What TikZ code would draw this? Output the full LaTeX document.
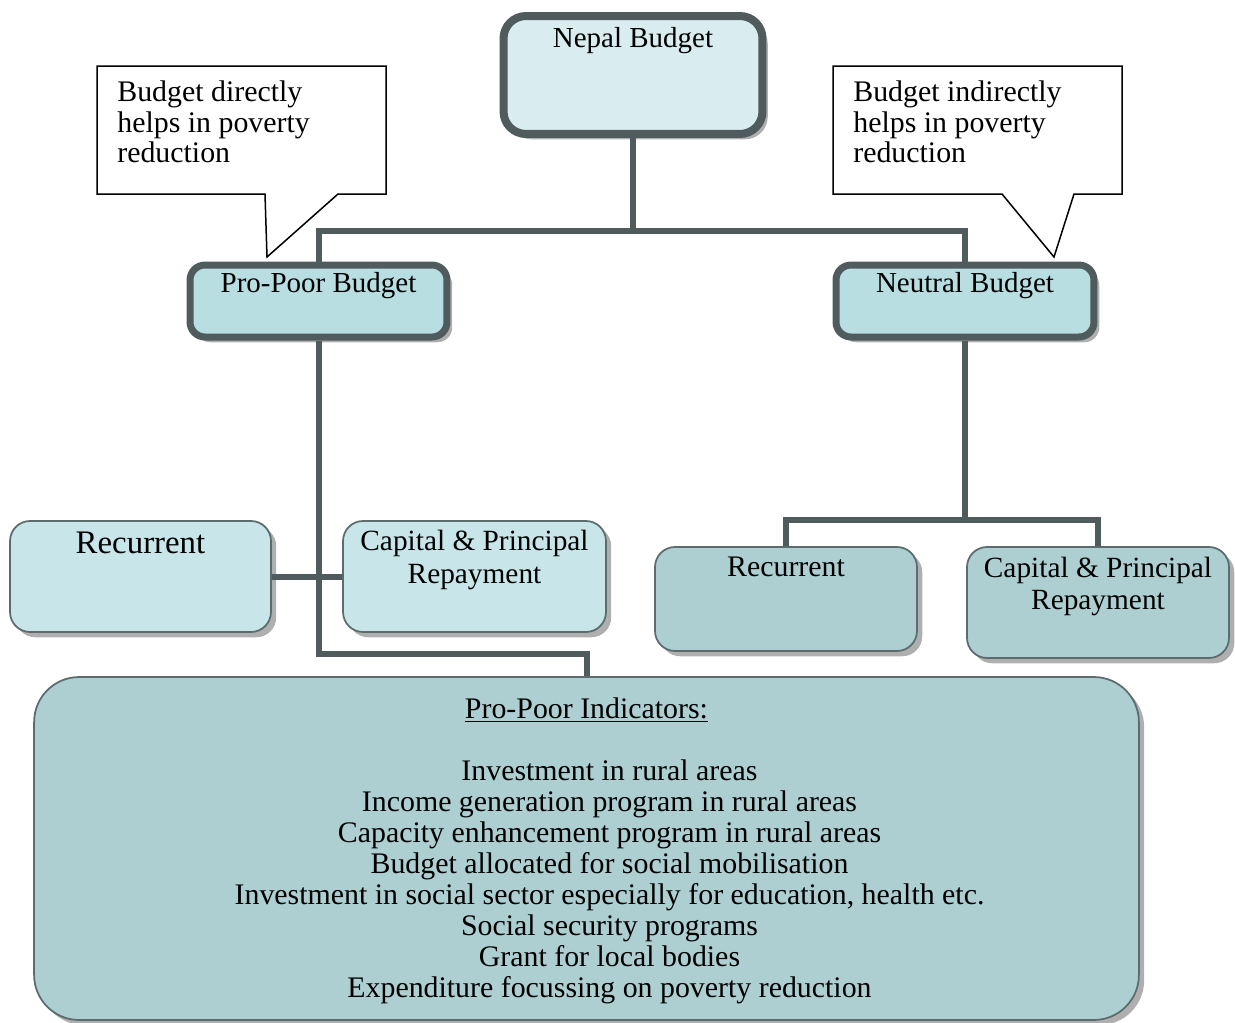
\documentclass[tikz,border=0pt]{standalone}
\usepackage{fontspec}
\setmainfont{Liberation Serif}
\usetikzlibrary{shadows}

\definecolor{slate}{RGB}{79,91,92}
\definecolor{edgegray}{RGB}{92,108,110}
\definecolor{topfill}{RGB}{217,237,240}
\definecolor{midfill}{RGB}{184,222,226}
\definecolor{lightfill}{RGB}{200,230,233}
\definecolor{darkfill}{RGB}{173,207,210}

\newcommand{\headfont}{\fontsize{16.5}{18.5}\selectfont}
\newcommand{\listfont}{\fontsize{17}{17.6}\selectfont}

\begin{document}
\begin{tikzpicture}[x=0.02cm,y=-0.02cm]
\tikzstyle{boxshadow} = [drop shadow={shadow xshift=3pt, shadow yshift=-3pt, fill=black!35, opacity=0.9}]
\tikzstyle{headbox} = [draw=slate, line width=1.4mm, boxshadow]
\tikzstyle{subbox} = [draw=edgegray, line width=0.35mm, rounded corners=0.4cm, boxshadow]
\tikzstyle{link} = [draw=slate, line width=1.2mm]
\tikzstyle{callout} = [draw=black, line width=0.3mm, fill=white]
\tikzstyle{calltext} = [anchor=north west, align=left, inner sep=0pt, font=\listfont]

\useasboundingbox (0,0) rectangle (1235,1022);

% top level
\node[headbox, fill=topfill, rounded corners=0.45cm, line width=1.6mm, minimum width=5.18cm, minimum height=2.36cm,
  label={[anchor=north, yshift=-0.3cm, inner sep=0pt, font=\headfont]north:Nepal Budget}] (nepal) at (633,75) {};
\node[headbox, fill=midfill, rounded corners=0.3cm, minimum width=5.14cm, minimum height=1.44cm,
  label={[anchor=north, yshift=-0.21cm, inner sep=0pt, font=\headfont]north:Pro-Poor Budget}] (propoor) at (318.5,301) {};
\node[headbox, fill=midfill, rounded corners=0.3cm, minimum width=5.16cm, minimum height=1.44cm,
  label={[anchor=north, yshift=-0.21cm, inner sep=0pt, font=\headfont]north:Neutral Budget}] (neutral) at (965,301) {};

% pro-poor side
\node[subbox, fill=lightfill, minimum width=5.22cm, minimum height=2.22cm,
  label={[anchor=north, yshift=-0.22cm, inner sep=0pt, font=\fontsize{18.7}{20}\selectfont]north:Recurrent}] (recleft) at (140.5,576.5) {};
\node[subbox, fill=lightfill, minimum width=5.26cm, minimum height=2.22cm,
  label={[anchor=north, yshift=-0.2cm, inner sep=0pt, align=center, font=\fontsize{16.7}{18.4}\selectfont]north:Capital \& Principal\\Repayment}] (capleft) at (474.5,576.5) {};

% neutral side
\node[subbox, fill=darkfill, minimum width=5.24cm, minimum height=2.08cm,
  label={[anchor=north, yshift=-0.2cm, inner sep=0pt, font=\fontsize{17}{19}\selectfont]north:Recurrent}] (recright) at (786,599) {};
\node[subbox, fill=darkfill, minimum width=5.24cm, minimum height=2.22cm,
  label={[anchor=north, yshift=-0.22cm, inner sep=0pt, align=center, font=\fontsize{16.7}{18}\selectfont]north:Capital \& Principal\\Repayment}] (capright) at (1098,602.5) {};

% indicators
\node[subbox, fill=darkfill, rounded corners=0.9cm, minimum width=22.1cm, minimum height=6.86cm,
  label={[anchor=north, yshift=-0.42cm, inner sep=0pt, font=\listfont]north:\underline{Pro-Poor Indicators:}}] (ind) at (586.5,848.5) {};
\node[align=center, inner sep=0pt, font=\listfont] (indlist) at (609.5,882) {Investment in rural areas\\
  Income generation program in rural areas\\
  Capacity enhancement program in rural areas\\
  Budget allocated for social mobilisation\\
  Investment in social sector especially for education, health etc.\\
  Social security programs\\
  Grant for local bodies\\
  Expenditure focussing on poverty reduction};

% connectors
\draw[link] (nepal.south) -- ++(0,93) coordinate (split) -| (propoor.north);
\draw[link] (split) -| (neutral.north);
\draw[link] (propoor.south) -- ++(0,313) -| (ind.north);
\draw[link] (recleft.east) -- (capleft.west);
\draw[link] (neutral.south) -- ++(0,179) coordinate (fork) -| (recright.north);
\draw[link] (fork) -| (capright.north);

% callouts
\draw[callout] (97,66) -- (386,66) -- (386,194) -- (338,194) -- (267,257) -- (265,194) -- (97,194) -- cycle;
\node[calltext] (directnote) at (117,80) {Budget directly\\helps in poverty\\reduction};
\draw[callout] (833,66) -- (1122,66) -- (1122,194) -- (1074,194) -- (1054,257) -- (1002,194) -- (833,194) -- cycle;
\node[calltext] (indirectnote) at (853,80) {Budget indirectly\\helps in poverty\\reduction};
\end{tikzpicture}
\end{document}
